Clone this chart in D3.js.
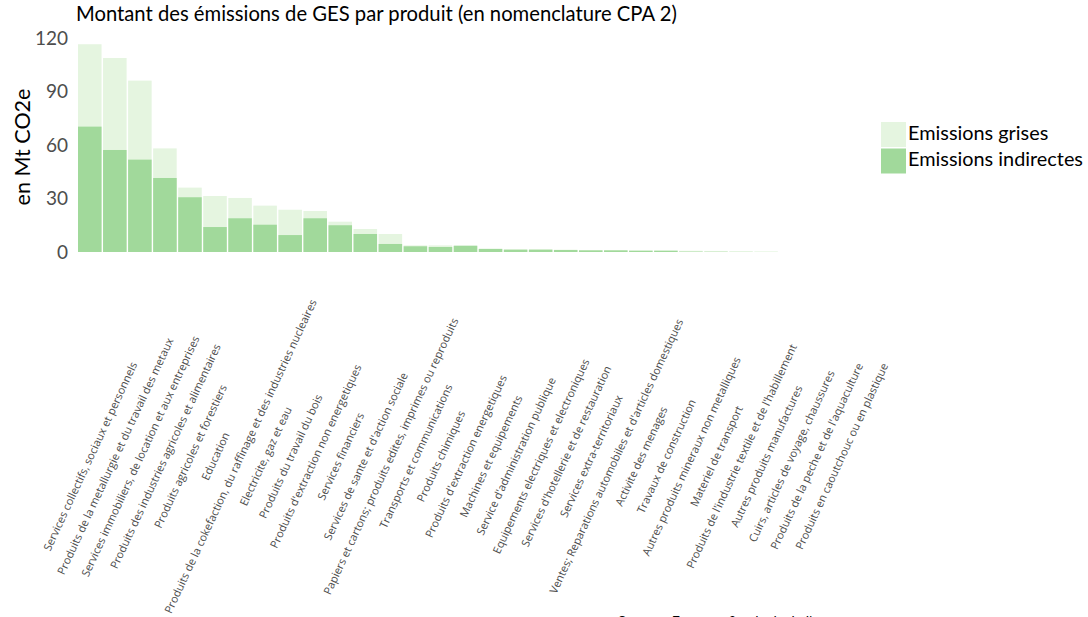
<!DOCTYPE html>
<html>
<head>
<meta charset="utf-8">
<script src="https://cdn.jsdelivr.net/npm/d3@7"></script>
<style>
  html, body { margin: 0; padding: 0; background: #fff; }
  svg { display: block; }
</style>
</head>
<body>
<script>
const categories = [
  "Services collectifs, sociaux et personnels",
  "Produits de la metallurgie et du travail des metaux",
  "Services immobiliers, de location et aux entreprises",
  "Produits des industries agricoles et alimentaires",
  "Produits agricoles et forestiers",
  "Education",
  "Produits de la cokefaction, du raffinage et des industries nucleaires",
  "Electricite, gaz et eau",
  "Produits du travail du bois",
  "Produits d'extraction non energetiques",
  "Services financiers",
  "Services de sante et d'action sociale",
  "Papiers et cartons; produits edites, imprimes ou reproduits",
  "Transports et communications",
  "Produits chimiques",
  "Produits d'extraction energetiques",
  "Machines et equipements",
  "Service d'administration publique",
  "Equipements electriques et electroniques",
  "Services d'hotellerie et de restauration",
  "Services extra-territoriaux",
  "Ventes; Reparations automobiles et d'articles domestiques",
  "Activite des menages",
  "Travaux de construction",
  "Autres produits mineraux non metalliques",
  "Materiel de transport",
  "Produits de l'industrie textile et de l'habillement",
  "Autres produits manufactures",
  "Cuirs, articles de voyage, chaussures",
  "Produits de la peche et de l'aquaculture",
  "Produits en caoutchouc ou en plastique"
];
// Emissions grises (full bar height, drawn behind)
const emissionsGrises = [116.5, 108.8, 96.1, 58.1, 36.1, 31.4, 30.3, 26.0, 23.7, 23.0, 17.0, 12.9, 10.1, 3.7, 3.7, 3.6, 1.9, 1.5, 1.5, 1.3, 1.1, 1.1, 0.9, 0.9, 0.7, 0.6, 0.4, 0.3, 0, 0, 0];
// Emissions indirectes (drawn in front)
const emissionsIndirectes = [70.3, 57.2, 51.8, 41.5, 30.7, 14.0, 18.9, 15.3, 9.5, 18.9, 15.0, 10.1, 4.5, 3.2, 2.8, 3.5, 1.7, 1.3, 1.3, 1.1, 0.9, 0.9, 0.7, 0.7, 0.2, 0.1, 0.05, 0.02, 0, 0, 0];
const yTicks = [0, 30, 60, 90, 120];
const seriesNames = ["Emissions grises", "Emissions indirectes"];
const titleText = "Montant des émissions de GES par produit (en nomenclature CPA 2)";
const yTitle = "en Mt CO2e";
const sourceText = "Source : Eurostat & calculs de l'auteur";

const W = 1088, H = 617;
const colGrises = "#e5f5e0", colInd = "#a1d99b";
const fontMain = "Lato, 'Open Sans', sans-serif";

const svg = d3.select("body").append("svg").attr("width", W).attr("height", H);

const x = d3.scaleBand().domain(categories).range([78, 853]).paddingInner(0.06);
const y = d3.scaleLinear().domain([0, 120]).range([252, 38]);

function fitWidth(sel, target) {
  const w = sel.node().getComputedTextLength();
  const fs = parseFloat(sel.attr("font-size"));
  sel.attr("font-size", (fs * target / w).toFixed(2));
}

// bars
svg.append("g").selectAll("rect").data(categories).join("rect")
  .attr("x", d => x(d)).attr("width", x.bandwidth())
  .attr("y", (d, i) => y(emissionsGrises[i]))
  .attr("height", (d, i) => y(0) - y(emissionsGrises[i]))
  .attr("fill", colGrises);
svg.append("g").selectAll("rect").data(categories).join("rect")
  .attr("x", d => x(d)).attr("width", x.bandwidth())
  .attr("y", (d, i) => y(emissionsIndirectes[i]))
  .attr("height", (d, i) => y(0) - y(emissionsIndirectes[i]))
  .attr("fill", colInd);

// y axis
const yAxis = svg.append("g").attr("transform", "translate(70,0)")
  .call(d3.axisLeft(y).tickValues(yTicks).tickSize(0).tickPadding(2));
yAxis.select(".domain").remove();
yAxis.selectAll("text").attr("font-family", fontMain).attr("font-size", 19).attr("fill", "#4d4d4d");

// y title
const yt = svg.append("text")
  .attr("transform", "translate(22,147) rotate(-90)")
  .attr("text-anchor", "middle").attr("dominant-baseline", "central")
  .attr("font-family", fontMain).attr("font-size", 20).attr("fill", "#000")
  .text(yTitle);
fitWidth(yt, 117);

// x labels
const xl = svg.append("g").selectAll("text").data(categories).join("text")
  .attr("transform", d => `translate(${x(d) + x.bandwidth() / 2},456) rotate(-65)`)
  .attr("text-anchor", "middle").attr("dominant-baseline", "central")
  .attr("font-family", "'Open Sans', sans-serif").attr("font-size", 10).attr("fill", "#4d4d4d")
  .text(d => d);
{
  const node = xl.filter((d, i) => i === 6).node();
  const w = node.getComputedTextLength();
  xl.attr("font-size", (10 * 345 / w).toFixed(2));
}

// title
const tt = svg.append("text").attr("x", 76).attr("y", 21)
  .attr("font-family", fontMain).attr("font-size", 18).attr("fill", "#000")
  .text(titleText);
fitWidth(tt, 601);

// legend
const lg = svg.append("g");
[colGrises, colInd].forEach((c, i) => {
  lg.append("rect").attr("x", 881).attr("y", 122 + i * 26.5).attr("width", 25).attr("height", 25).attr("fill", c);
});
const lt = lg.selectAll("text.l").data(seriesNames).join("text").attr("class", "l")
  .attr("x", 908).attr("y", (d, i) => 140 + i * 26)
  .attr("font-family", fontMain).attr("font-size", 18).attr("fill", "#000")
  .text(d => d);
{
  const w = lt.filter((d, i) => i === 1).node().getComputedTextLength();
  lt.attr("font-size", (18 * 175 / w).toFixed(2));
}

// source (cut by bottom edge)
const st = svg.append("text").attr("x", 618).attr("y", 626)
  .attr("font-family", fontMain).attr("font-size", 15).attr("fill", "#000")
  .text(sourceText);
fitWidth(st, 235);
</script>
</body>
</html>
